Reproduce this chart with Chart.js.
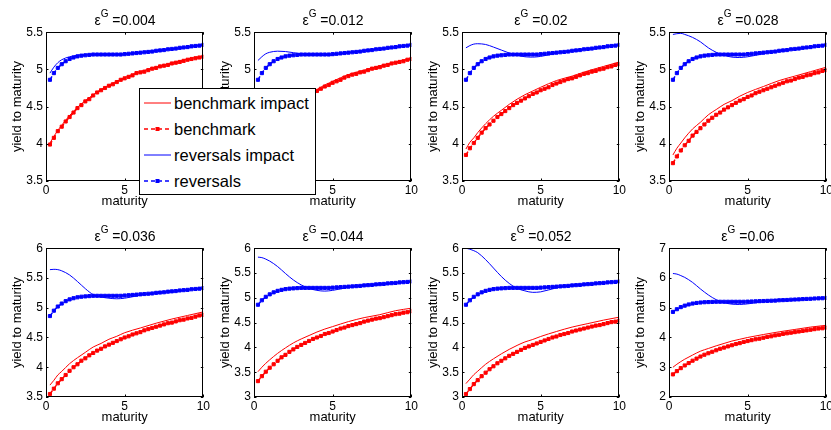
<!DOCTYPE html>
<html>
<head>
<meta charset="utf-8">
<script src="https://cdn.jsdelivr.net/npm/chart.js@4.4.1/dist/chart.umd.min.js"></script>
<style>
  body { margin: 0; background: #fff; width: 831px; height: 430px; position: relative; overflow: hidden;
         font-family: "Liberation Sans", Arial, Helvetica, sans-serif; }
  canvas.panel { position: absolute; }
  .ttl { position: absolute; width: 158px; text-align: center; font-size: 14px; line-height: 16px; color: #000; white-space: nowrap; }
  .ttl sup { font-size: 10px; position: relative; top: -2px; }
  #legend { position: absolute; left: 139px; top: 88px; width: 175px; height: 105px; border: 1px solid #000; background: #fff; z-index: 5; }
  #legend .row { position: absolute; left: 4px; height: 20px; display: flex; align-items: center; }
  #legend span { margin-left: 3px; font-size: 16.5px; color: #000; }
</style>
</head>
<body>
<div id="legend">
  <div class="row" style="top:4px"><svg width="27" height="10"><line x1="0" y1="5" x2="27" y2="5" stroke="#ff0000" stroke-width="1"/></svg><span>benchmark impact</span></div>
  <div class="row" style="top:30px"><svg width="27" height="10"><line x1="0" y1="5" x2="27" y2="5" stroke="#ff0000" stroke-width="1.5" stroke-dasharray="4,3"/><rect x="11.5" y="3" width="4" height="4" fill="#ff0000"/></svg><span>benchmark</span></div>
  <div class="row" style="top:56px"><svg width="27" height="10"><line x1="0" y1="5" x2="27" y2="5" stroke="#0000ff" stroke-width="1"/></svg><span>reversals impact</span></div>
  <div class="row" style="top:82px"><svg width="27" height="10"><line x1="0" y1="5" x2="27" y2="5" stroke="#0000ff" stroke-width="1.5" stroke-dasharray="4,3"/><rect x="11.5" y="3" width="4" height="4" fill="#0000ff"/></svg><span>reversals</span></div>
</div>
<script>
// maturities of the dotted series (quarterly grid) and of the impact lines
const maturities = [0.25, 0.5, 0.75, 1, 1.25, 1.5, 1.75, 2, 2.25, 2.5, 2.75, 3, 3.25, 3.5, 3.75, 4, 4.25, 4.5, 4.75, 5,
                    5.25, 5.5, 5.75, 6, 6.25, 6.5, 6.75, 7, 7.25, 7.5, 7.75, 8, 8.25, 8.5, 8.75, 9, 9.25, 9.5, 9.75, 10];
const impactMaturities = [0.25, 0.5, 0.75, 1, 1.5, 2, 2.5, 3, 3.5, 4, 4.5, 5, 6, 7, 8, 9, 10];

const epsLabels = ['0.004', '0.012', '0.02', '0.028', '0.036', '0.044', '0.052', '0.06'];

// reversals curve (same in every panel)
const reversals = [4.86, 4.95, 5.02, 5.07, 5.11, 5.14, 5.16, 5.175, 5.185, 5.19, 5.195, 5.2, 5.2, 5.2, 5.2, 5.2, 5.2, 5.2, 5.2, 5.205,
                   5.21, 5.215, 5.22, 5.225, 5.23, 5.235, 5.24, 5.25, 5.255, 5.26, 5.27, 5.275, 5.28, 5.29, 5.295, 5.3, 5.31, 5.315, 5.32, 5.33];

// benchmark curves
const bench004 = [3.99, 4.08, 4.17, 4.23, 4.3, 4.36, 4.42, 4.48, 4.52, 4.57, 4.6, 4.65, 4.69, 4.72, 4.75, 4.78, 4.8, 4.83, 4.86, 4.88,
                  4.9, 4.92, 4.95, 4.96, 4.97, 4.99, 5.01, 5.02, 5.04, 5.05, 5.06, 5.08, 5.09, 5.1, 5.115, 5.13, 5.14, 5.15, 5.16, 5.17];
const bench012 = [3.92, 4.02, 4.09, 4.16, 4.23, 4.3, 4.35, 4.4, 4.45, 4.5, 4.54, 4.58, 4.62, 4.65, 4.68, 4.71, 4.74, 4.77, 4.79, 4.82,
                  4.84, 4.86, 4.89, 4.91, 4.93, 4.94, 4.96, 4.97, 4.99, 5.01, 5.02, 5.03, 5.05, 5.06, 5.08, 5.09, 5.1, 5.11, 5.13, 5.14];
const bench020 = [3.85, 3.94, 4.01, 4.08, 4.15, 4.21, 4.26, 4.31, 4.36, 4.4, 4.44, 4.48, 4.52, 4.55, 4.58, 4.61, 4.64, 4.67, 4.69, 4.72,
                  4.74, 4.76, 4.79, 4.81, 4.83, 4.85, 4.87, 4.88, 4.9, 4.92, 4.94, 4.95, 4.97, 4.98, 5.0, 5.01, 5.03, 5.04, 5.06, 5.07];
const bench028 = [3.74, 3.83, 3.91, 3.98, 4.04, 4.11, 4.16, 4.21, 4.26, 4.31, 4.35, 4.39, 4.42, 4.46, 4.49, 4.52, 4.55, 4.58, 4.6, 4.63,
                  4.65, 4.68, 4.7, 4.72, 4.74, 4.76, 4.78, 4.8, 4.82, 4.84, 4.85, 4.87, 4.89, 4.9, 4.92, 4.93, 4.95, 4.96, 4.98, 4.99];
const bench036 = [3.55, 3.64, 3.73, 3.8, 3.87, 3.94, 4.0, 4.05, 4.11, 4.15, 4.2, 4.24, 4.28, 4.31, 4.35, 4.38, 4.41, 4.44, 4.47, 4.5,
                  4.52, 4.55, 4.57, 4.59, 4.62, 4.64, 4.66, 4.68, 4.7, 4.72, 4.74, 4.75, 4.77, 4.79, 4.8, 4.82, 4.83, 4.85, 4.87, 4.88];
const bench044 = [3.32, 3.42, 3.51, 3.59, 3.66, 3.73, 3.8, 3.85, 3.91, 3.96, 4.01, 4.05, 4.09, 4.13, 4.17, 4.2, 4.23, 4.27, 4.29, 4.32,
                  4.35, 4.38, 4.4, 4.43, 4.45, 4.47, 4.49, 4.52, 4.54, 4.56, 4.58, 4.59, 4.61, 4.63, 4.65, 4.67, 4.68, 4.7, 4.71, 4.73];
const bench052 = [3.06, 3.16, 3.26, 3.34, 3.42, 3.49, 3.56, 3.62, 3.68, 3.73, 3.78, 3.83, 3.87, 3.91, 3.95, 3.99, 4.02, 4.05, 4.08, 4.11,
                  4.14, 4.17, 4.2, 4.22, 4.25, 4.27, 4.29, 4.32, 4.34, 4.36, 4.38, 4.4, 4.42, 4.44, 4.45, 4.47, 4.49, 4.51, 4.52, 4.54];
const bench060 = [2.76, 2.87, 2.97, 3.06, 3.14, 3.22, 3.29, 3.36, 3.42, 3.47, 3.52, 3.57, 3.62, 3.66, 3.7, 3.74, 3.78, 3.81, 3.85, 3.88,
                  3.91, 3.94, 3.96, 3.99, 4.02, 4.04, 4.07, 4.09, 4.12, 4.14, 4.16, 4.18, 4.2, 4.22, 4.24, 4.26, 4.28, 4.3, 4.31, 4.33];

// benchmark impact (on impactMaturities)
const benchImp004 = [4.01, 4.1, 4.18, 4.25, 4.38, 4.49, 4.58, 4.66, 4.73, 4.79, 4.84, 4.89, 4.97, 5.03, 5.09, 5.14, 5.18];
const benchImp012 = [3.96, 4.06, 4.13, 4.19, 4.33, 4.43, 4.53, 4.61, 4.67, 4.73, 4.79, 4.84, 4.93, 4.99, 5.05, 5.1, 5.15];
const benchImp020 = [3.93, 4.02, 4.08, 4.15, 4.27, 4.37, 4.45, 4.53, 4.6, 4.66, 4.71, 4.76, 4.85, 4.91, 4.98, 5.04, 5.1];
const benchImp028 = [3.85, 3.94, 4.01, 4.08, 4.2, 4.29, 4.39, 4.46, 4.53, 4.58, 4.64, 4.69, 4.77, 4.85, 4.91, 4.97, 5.03];
const benchImp036 = [3.7, 3.78, 3.87, 3.93, 4.06, 4.16, 4.25, 4.34, 4.4, 4.47, 4.52, 4.58, 4.66, 4.74, 4.81, 4.87, 4.93];
const benchImp044 = [3.51, 3.6, 3.68, 3.75, 3.88, 3.99, 4.09, 4.17, 4.24, 4.31, 4.37, 4.42, 4.52, 4.6, 4.66, 4.74, 4.79];
const benchImp052 = [3.27, 3.36, 3.45, 3.52, 3.66, 3.77, 3.87, 3.96, 4.04, 4.11, 4.16, 4.22, 4.32, 4.41, 4.48, 4.55, 4.61];
const benchImp060 = [3.0, 3.1, 3.19, 3.27, 3.41, 3.54, 3.63, 3.72, 3.8, 3.88, 3.94, 4.0, 4.1, 4.19, 4.27, 4.35, 4.41];

// reversals impact (on impactMaturities)
const revImp004 = [4.95, 5.03, 5.09, 5.13, 5.17, 5.19, 5.195, 5.2, 5.2, 5.2, 5.2, 5.205, 5.225, 5.25, 5.275, 5.3, 5.33];
const revImp012 = [5.12, 5.17, 5.21, 5.23, 5.245, 5.24, 5.225, 5.21, 5.2, 5.195, 5.19, 5.195, 5.225, 5.25, 5.275, 5.3, 5.33];
const revImp020 = [5.29, 5.32, 5.34, 5.345, 5.335, 5.3, 5.26, 5.22, 5.19, 5.17, 5.165, 5.175, 5.215, 5.25, 5.275, 5.3, 5.33];
const revImp028 = [5.47, 5.48, 5.485, 5.47, 5.43, 5.37, 5.29, 5.23, 5.19, 5.165, 5.16, 5.17, 5.21, 5.25, 5.275, 5.3, 5.33];
const revImp036 = [5.64, 5.645, 5.64, 5.62, 5.55, 5.44, 5.32, 5.22, 5.18, 5.16, 5.15, 5.16, 5.21, 5.25, 5.275, 5.3, 5.33];
const revImp044 = [5.82, 5.81, 5.78, 5.74, 5.63, 5.49, 5.36, 5.26, 5.19, 5.15, 5.135, 5.15, 5.21, 5.25, 5.275, 5.3, 5.33];
const revImp052 = [6.0, 5.98, 5.95, 5.91, 5.77, 5.6, 5.43, 5.29, 5.19, 5.14, 5.11, 5.12, 5.2, 5.25, 5.275, 5.3, 5.33];
const revImp060 = [6.15, 6.13, 6.08, 6.02, 5.85, 5.63, 5.43, 5.27, 5.17, 5.12, 5.11, 5.13, 5.2, 5.25, 5.275, 5.3, 5.33];

// y axis ranges per panel
const yMin = [3.5, 3.5, 3.5, 3.5, 3.5, 3, 3, 2];
const yMax = [5.5, 5.5, 5.5, 5.5, 6, 6, 6, 7];
const yStep = [0.5, 0.5, 0.5, 0.5, 0.5, 0.5, 0.5, 1];

const benchSeries = [bench004, bench012, bench020, bench028, bench036, bench044, bench052, bench060];
const benchImpSeries = [benchImp004, benchImp012, benchImp020, benchImp028, benchImp036, benchImp044, benchImp052, benchImp060];
const revImpSeries = [revImp004, revImp012, revImp020, revImp028, revImp036, revImp044, revImp052, revImp060];

const RED = '#ff0000';
const BLUE = '#0000ff';
const FONT = '"Liberation Sans", Arial, Helvetica, sans-serif';

// plot box placement
const plotLeft = [46, 254, 462, 669];
const plotTop = [32, 248];
const PLOT_W = 158, PLOT_H = 149;
const AXIS_W = 46, AXIS_H = 30, PAD_TOP = 10, PAD_RIGHT = 8;

const toPoints = (xs, ys) => xs.map((x, i) => ({ x, y: ys[i] }));

// MATLAB style box with inward ticks on all four sides
const matlabBox = {
    id: 'matlabBox',
    afterDraw(chart) {
        const { ctx, chartArea: a, scales: { x, y } } = chart;
        const len = 2.5;
        ctx.save();
        ctx.strokeStyle = '#000';
        ctx.lineWidth = 1;
        ctx.beginPath();
        x.ticks.forEach(t => {
            const px = Math.round(x.getPixelForValue(t.value)) + 0.5;
            ctx.moveTo(px, a.bottom); ctx.lineTo(px, a.bottom - len);
            ctx.moveTo(px, a.top); ctx.lineTo(px, a.top + len);
        });
        y.ticks.forEach(t => {
            const py = Math.round(y.getPixelForValue(t.value)) + 0.5;
            ctx.moveTo(a.left, py); ctx.lineTo(a.left + len, py);
            ctx.moveTo(a.right, py); ctx.lineTo(a.right - len, py);
        });
        ctx.stroke();
        ctx.strokeRect(Math.round(a.left) + 0.5, Math.round(a.top) + 0.5,
                       Math.round(a.right - a.left) - 1, Math.round(a.bottom - a.top) - 1);
        ctx.restore();
    }
};

epsLabels.forEach((eps, i) => {
    const col = i % 4, row = Math.floor(i / 4);

    const canvas = document.createElement('canvas');
    canvas.className = 'panel';
    canvas.width = AXIS_W + PLOT_W + PAD_RIGHT;
    canvas.height = PAD_TOP + PLOT_H + AXIS_H;
    canvas.style.left = (plotLeft[col] - AXIS_W) + 'px';
    canvas.style.top = (plotTop[row] - PAD_TOP) + 'px';
    document.body.appendChild(canvas);

    const ttl = document.createElement('div');
    ttl.className = 'ttl';
    ttl.style.left = plotLeft[col] + 'px';
    ttl.style.top = (plotTop[row] - 24) + 'px';
    ttl.innerHTML = 'ε<sup>G</sup> =' + eps;
    document.body.appendChild(ttl);

    new Chart(canvas.getContext('2d'), {
        type: 'line',
        data: {
            datasets: [
                {
                    label: 'benchmark impact',
                    data: toPoints(impactMaturities, benchImpSeries[i]),
                    borderColor: RED, borderWidth: 1, pointRadius: 0,
                    cubicInterpolationMode: 'monotone', order: 4
                },
                {
                    label: 'benchmark',
                    data: toPoints(maturities, benchSeries[i]),
                    borderColor: RED, backgroundColor: RED, borderWidth: 1.5, borderDash: [4, 3],
                    pointStyle: 'rect', pointRadius: 2.2, pointBorderWidth: 1, order: 3
                },
                {
                    label: 'reversals impact',
                    data: toPoints(impactMaturities, revImpSeries[i]),
                    borderColor: BLUE, borderWidth: 1, pointRadius: 0,
                    cubicInterpolationMode: 'monotone', order: 2
                },
                {
                    label: 'reversals',
                    data: toPoints(maturities, reversals),
                    borderColor: BLUE, backgroundColor: BLUE, borderWidth: 1.5, borderDash: [4, 3],
                    pointStyle: 'rect', pointRadius: 2.2, pointBorderWidth: 1, order: 1
                }
            ]
        },
        options: {
            responsive: false,
            animation: false,
            devicePixelRatio: 1,
            layout: { padding: { top: PAD_TOP, right: PAD_RIGHT, left: 0, bottom: 0 } },
            plugins: { legend: { display: false }, tooltip: { enabled: false }, title: { display: false } },
            scales: {
                x: {
                    type: 'linear', min: 0, max: 10,
                    afterFit: s => { s.height = AXIS_H; },
                    grid: { display: false, drawTicks: false },
                    border: { display: false },
                    ticks: { stepSize: 5, padding: 2, color: '#000', maxRotation: 0,
                             font: { family: FONT, size: 12 }, callback: v => String(v) },
                    title: { display: true, text: 'maturity', color: '#000', padding: { top: 0, bottom: 2 },
                             font: { family: FONT, size: 13 } }
                },
                y: {
                    type: 'linear', min: yMin[i], max: yMax[i],
                    afterFit: s => { s.width = AXIS_W; },
                    grid: { display: false, drawTicks: false },
                    border: { display: false },
                    ticks: { stepSize: yStep[i], padding: 3, color: '#000',
                             font: { family: FONT, size: 12 }, callback: v => String(v) },
                    title: { display: true, text: 'yield to maturity', color: '#000', padding: { top: 10, bottom: 0 },
                             font: { family: FONT, size: 13 } }
                }
            }
        },
        plugins: [matlabBox]
    });
});
</script>
</body>
</html>
